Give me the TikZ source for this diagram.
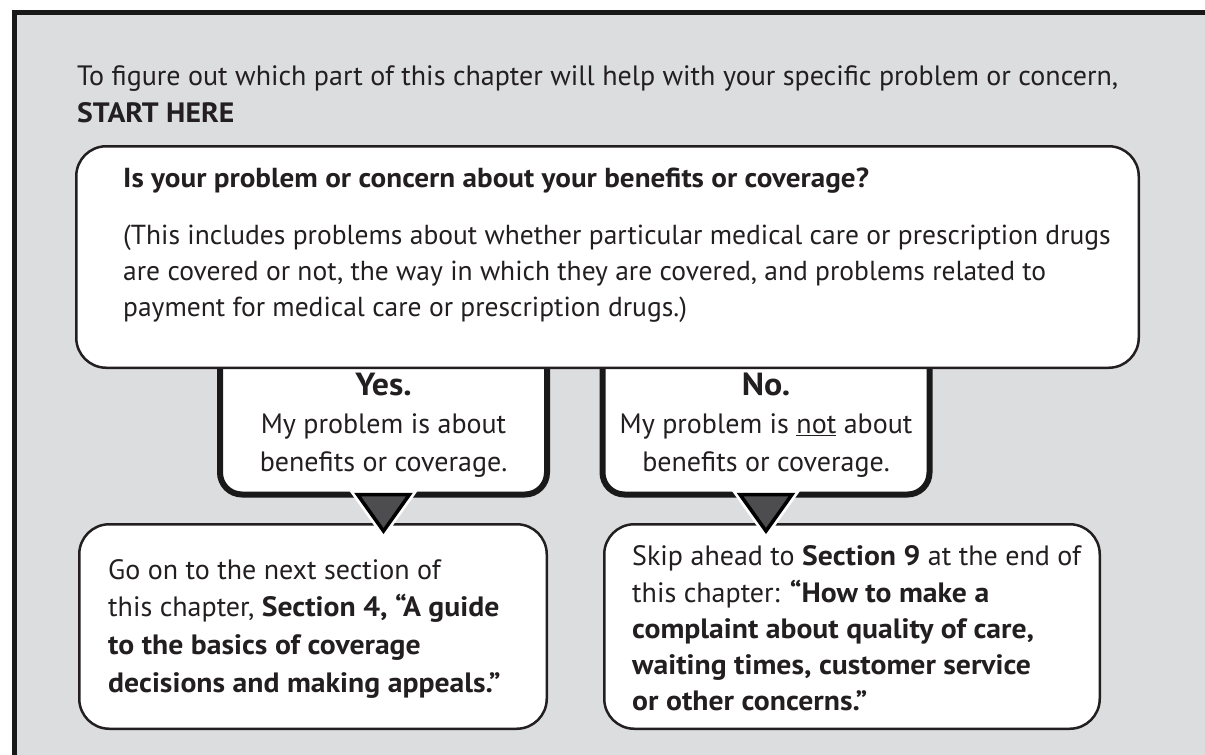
\documentclass[tikz,border=0pt]{standalone}
\usepackage{fontspec}
\setmainfont{PT Sans}[BoldFeatures={FakeStretch=1.06}]
\usetikzlibrary{calc}
\definecolor{panelgray}{RGB}{220,221,223}
\definecolor{inkgray}{RGB}{35,31,32}
\definecolor{tipgray}{RGB}{77,77,79}
\tikzset{
  line/.style={anchor=base west,inner sep=0pt,text=inkgray,font=\fontsize{28}{35}\selectfont},
  midline/.style={line,anchor=base},
  panel/.style={draw=inkgray,fill=white,line width=2.5pt,rounded corners=30pt,inner sep=0pt},
  bubble/.style={draw=black!90,fill=white,line width=6pt,rounded corners=22pt,inner sep=0pt},
  pointer/.style={fill=tipgray,draw=black,line width=3.5pt,line join=miter},
}
\begin{document}
\begin{tikzpicture}[x=1pt,y=-1pt]
\useasboundingbox (0,0) rectangle (1205,755);
\fill[white] (0,0) rectangle (1205,755);
\fill[panelgray] (14,12) rectangle (1205,755);
\draw[black!90,line width=5pt] (14.5,755) -- (14.5,12.5) -- (1205,12.5);
% heading
\node[line] (intro1) at (77,85) {To figure out which part of this chapter will help with your specific problem or concern,};
\node[line] (intro2) at (77,122) {\textbf{START HERE}};
% speech bubbles (top hidden under the question box)
\node[bubble,minimum width=327pt,minimum height=165pt] (yesbub) at (383.5,412) {};
\node[bubble,minimum width=327pt,minimum height=165pt] (nobub) at (766,412) {};
% question box
\node[panel,minimum width=1062.5pt,minimum height=221.5pt] (qbox) at (607.5,257) {};
\node[line,font=\fontsize{27.5}{35}\selectfont] (q1) at (123,187) {\textbf{Is your problem or concern about your benefits or coverage?}};
\node[line,font=\fontsize{27.5}{35}\selectfont] (q2) at (123,244) {(This includes problems about whether particular medical care or prescription drugs};
\node[line,font=\fontsize{27.5}{35}\selectfont] (q3) at (123,280) {are covered or not, the way in which they are covered, and problems related to};
\node[line,font=\fontsize{27.5}{35}\selectfont] (q4) at (123,316) {payment for medical care or prescription drugs.)};
% answers
\node[midline,font=\fontsize{32}{35}\selectfont\bfseries] (yes1) at (383.5,395) {Yes.};
\node[midline] (yes2) at (383.5,433) {My problem is about};
\node[midline] (yes3) at (383.5,471) {benefits or coverage.};
\node[midline,font=\fontsize{32}{35}\selectfont\bfseries] (no1) at (766,395) {No.};
\node[midline] (no2) at (766,433) {My problem is \underline{not} about};
\node[midline] (no3) at (766,471) {benefits or coverage.};
% where to go next
\node[panel,minimum width=467.5pt,minimum height=204.5pt] (gobox) at (313,626.5) {};
\node[line] (go1) at (108,579) {Go on to the next section of};
\node[line] (go2) at (108,616) {this chapter, \textbf{Section 4, “A guide}};
\node[line] (go3) at (108,654) {\textbf{to the basics of coverage}};
\node[line] (go4) at (108,692) {\textbf{decisions and making appeals.”}};
\node[panel,minimum width=495.5pt,minimum height=204.5pt] (skipbox) at (852,626.5) {};
\node[line] (skip1) at (632,565) {Skip ahead to \textbf{Section 9} at the end of};
\node[line] (skip2) at (632,602) {this chapter: \textbf{“How to make a}};
\node[line] (skip3) at (632,638) {\textbf{complaint about quality of care,}};
\node[line] (skip4) at (632,674) {\textbf{waiting times, customer service}};
\node[line] (skip5) at (632,710) {\textbf{or other concerns.”}};
% pointers
\foreach \from/\to in {yesbub/gobox,nobub/skipbox}{
  \draw[white,line width=9pt,line join=miter] ($(\from.south)+(-26,-3)$) -- ($(\from.south)+(26,-3)$) -- ($(\from.south |- \to.north)+(0,8)$) -- cycle;
  \draw[pointer] ($(\from.south)+(-26,-3)$) -- ($(\from.south)+(26,-3)$) -- ($(\from.south |- \to.north)+(0,8)$) -- cycle;
}
\end{tikzpicture}
\end{document}
